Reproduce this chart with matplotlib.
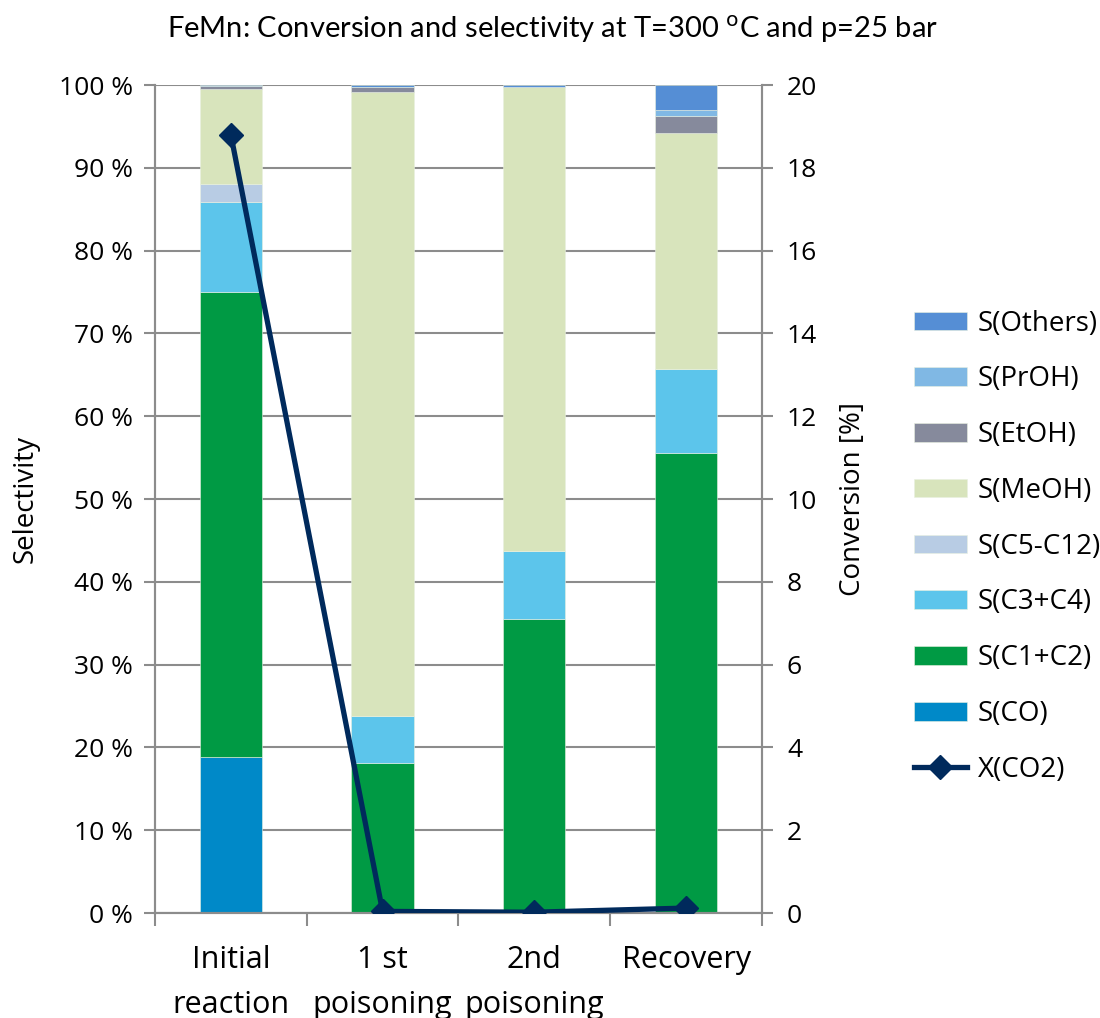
import numpy as np
import matplotlib
matplotlib.use("Agg")
import matplotlib.pyplot as plt
from matplotlib.ticker import FixedLocator

plt.rcParams['font.family'] = ['Open Sans', 'DejaVu Sans']

categories = ['Initial\nreaction', '1 st\npoisoning', '2nd\npoisoning', 'Recovery']
s_names = ['S(CO)', 'S(C1+C2)', 'S(C3+C4)', 'S(C5-C12)', 'S(MeOH)', 'S(EtOH)', 'S(PrOH)', 'S(Others)']
s_co = [18.9, 0.0, 0.0, 0.0]
s_c1c2 = [56.1, 18.1, 35.5, 55.5]
s_c3c4 = [10.9, 5.7, 8.2, 10.2]
s_c5c12 = [2.1, 0.0, 0.0, 0.0]
s_meoh = [11.5, 75.4, 56.1, 28.5]
s_etoh = [0.4, 0.5, 0.0, 2.1]
s_proh = [0.0, 0.0, 0.0, 0.7]
s_others = [0.1, 0.3, 0.2, 3.0]
x_co2 = [18.8, 0.04, 0.02, 0.12]

colors = ['#0089c8', '#009a44', '#5cc5eb', '#b8cce4', '#d8e4bc', '#868a9c', '#80b8e4', '#558ed5']
line_color = '#002a5c'
grid_color = '#8c8c8c'

fig = plt.figure(figsize=(11, 10.18), dpi=100)
ax = fig.add_axes([0.1409, 0.1031, 0.5518, 0.8134])
ax2 = ax.twinx()

x = np.arange(len(categories))
series = [s_co, s_c1c2, s_c3c4, s_c5c12, s_meoh, s_etoh, s_proh, s_others]
bottom = np.zeros(len(categories))
handles = []
for vals, name, c in zip(series, s_names, colors):
    b = ax.bar(x, vals, 0.41, bottom=bottom, color=c, label=name,
               edgecolor='#e8f0e0', linewidth=0.4, zorder=2)
    handles.append(b)
    bottom += np.array(vals)

ln, = ax2.plot(x, x_co2, color=line_color, lw=3.8, marker='D', ms=12,
               label='X(CO2)', zorder=5)

ax.set_xlim(-0.5, 3.5)
ax.set_ylim(0, 100)
ax2.set_ylim(0, 20)
ax.set_yticks(np.arange(0, 101, 10))
ax.set_yticklabels(['%d %%' % v for v in range(0, 101, 10)], fontsize=19)
ax2.set_yticks(np.arange(0, 21, 2))
ax2.set_yticklabels([str(v) for v in range(0, 21, 2)], fontsize=19)

ax.set_xticks(x)
ax.set_xticklabels(categories, fontsize=22, linespacing=1.65)
ax.xaxis.set_minor_locator(FixedLocator(np.arange(-0.5, 3.6, 1.0)))
ax.tick_params(axis='x', which='major', length=0, pad=23)
ax.tick_params(axis='x', which='minor', length=9, width=1.5, color=grid_color, direction='out')
ax.tick_params(axis='y', length=8, width=1.5, color=grid_color, pad=8)
ax2.tick_params(axis='y', length=8, width=1.5, color=grid_color, pad=10)

ax.yaxis.grid(True, color=grid_color, lw=1.5, zorder=0)
ax.set_axisbelow(True)
for a in (ax, ax2):
    a.spines['top'].set_visible(False)
    for s in ('left', 'right', 'bottom'):
        a.spines[s].set_color(grid_color)
        a.spines[s].set_linewidth(1.5)

ax.set_ylabel('Selectivity', fontsize=20, labelpad=14)
ax2.set_ylabel('Conversion [%]', fontsize=20, labelpad=16)

fig.suptitle('FeMn: Conversion and selectivity at T=300 $^{\\rm o}$C and p=25 bar',
             x=0.502, y=0.987, fontsize=21, family=['Lato', 'DejaVu Sans'])

fig.legend(handles[::-1] + [ln], s_names[::-1] + ['X(CO2)'],
           loc='center left', bbox_to_anchor=(0.831, 0.463), frameon=False,
           fontsize=20, handlelength=1.9, handleheight=0.65, handletextpad=0.4,
           labelspacing=1.0, borderpad=0, borderaxespad=0)

fig.savefig('out.png', dpi=100)
